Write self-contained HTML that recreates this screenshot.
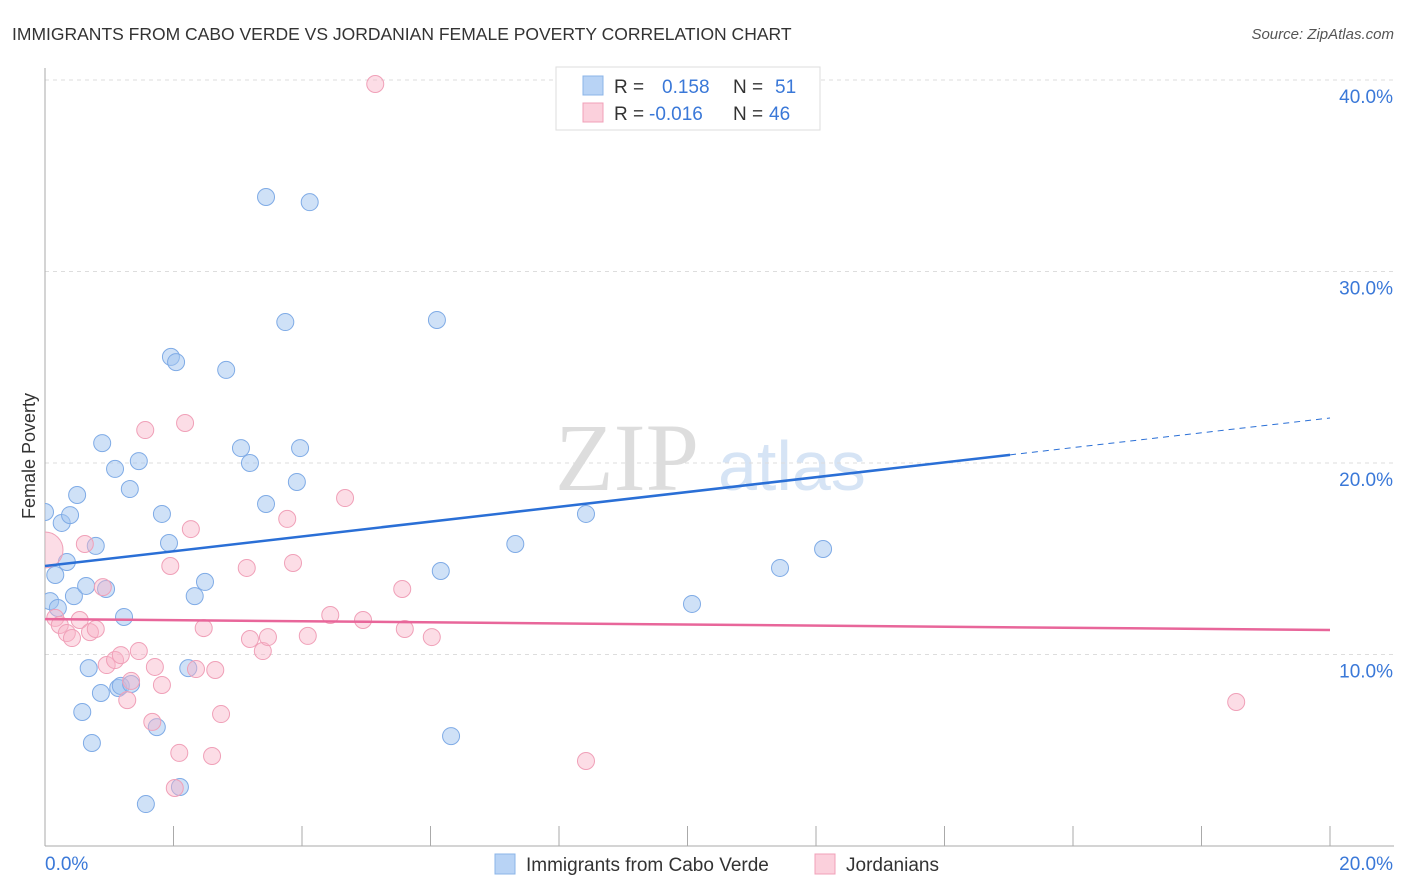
<!DOCTYPE html>
<html><head><meta charset="utf-8"><style>
body{margin:0;background:#fff;font-family:"Liberation Sans",sans-serif}
#w{position:relative;width:1406px;height:892px;overflow:hidden}
</style></head><body><div id="w">
<svg id="s" width="1406" height="892" xmlns="http://www.w3.org/2000/svg">
<text x="12" y="40" font-size="17.5" fill="#333">IMMIGRANTS FROM CABO VERDE VS JORDANIAN FEMALE POVERTY CORRELATION CHART</text>
<text x="1394" y="39" font-size="15" fill="#555" font-style="italic" text-anchor="end">Source: ZipAtlas.com</text>
<text x="35" y="456" font-size="18" fill="#333" text-anchor="middle" transform="rotate(-90 35 456)">Female Poverty</text>
<text x="555" y="490" font-size="96" fill="#ddd" font-family="Liberation Serif,serif">ZIP</text>
<text x="718" y="490" font-size="70" fill="#d6e4f5">atlas</text>
<g id="grid"></g><g id="marks"></g>
<g>
<rect x="556" y="67" width="264" height="63" fill="#fff" stroke="#ddd"/>
<rect x="583" y="76" width="20" height="19" fill="#b8d3f5" stroke="#8bb4e8"/>
<rect x="583" y="103" width="20" height="19" fill="#fbd0dc" stroke="#f0a0b8"/>
<text x="614" y="93" font-size="19" fill="#333">R =</text><text x="662" y="93" font-size="19" fill="#3a78d8">0.158</text>
<text x="733" y="93" font-size="19" fill="#333">N =</text><text x="775" y="93" font-size="19" fill="#3a78d8">51</text>
<text x="614" y="120" font-size="19" fill="#333">R =</text><text x="649" y="120" font-size="19" fill="#3a78d8">-0.016</text>
<text x="733" y="120" font-size="19" fill="#333">N =</text><text x="769" y="120" font-size="19" fill="#3a78d8">46</text>
</g>
<g>
<rect x="495" y="854" width="20" height="20" fill="#b8d3f5" stroke="#8bb4e8"/>
<text x="526" y="871" font-size="19" fill="#333">Immigrants from Cabo Verde</text>
<rect x="815" y="854" width="20" height="20" fill="#fbd0dc" stroke="#f0a0b8"/>
<text x="846" y="871" font-size="19" fill="#333">Jordanians</text>
</g>
</svg></div>
<script>
const blueX=[0,0.16,0.08,0.20,0.26,0.39,0.34,0.50,0.45,0.64,0.79,0.89,0.95,1.09,1.23,1.32,1.46,1.82,1.93,1.96,2.04,2.33,2.49,2.82,3.05,3.19,3.44,3.44,3.74,3.92,3.97,4.12,6.10,6.16,6.32,7.32,8.42,10.07,11.44,12.11,0.58,0.68,0.73,0.87,1.14,1.18,1.34,1.57,1.74,2.10,2.23];
const blueY=[17.44,14.15,12.79,12.43,16.87,17.28,14.83,18.33,13.05,13.58,15.67,21.04,13.42,19.69,11.96,18.64,20.10,17.34,15.82,25.54,25.27,13.05,13.79,24.86,20.78,20.00,33.89,17.86,27.36,19.01,20.78,33.62,27.47,14.36,5.74,15.77,17.34,12.64,14.52,15.51,7.00,9.29,5.38,7.99,8.25,8.36,8.46,2.19,6.21,3.08,9.29];
const pinkX=[0,0.16,0.23,0.34,0.42,0.54,0.62,0.70,0.79,0.90,0.96,1.09,1.18,1.28,1.34,1.46,1.56,1.67,1.71,1.82,1.95,2.09,2.02,2.18,2.27,2.35,2.47,2.60,2.65,2.74,3.14,3.19,3.39,3.47,3.77,3.86,4.09,4.44,4.67,4.95,5.14,5.56,5.60,6.02,8.42,18.54];
const pinkY=[15.46,11.91,11.54,11.12,10.86,11.80,15.77,11.17,11.33,13.52,9.45,9.71,9.97,7.62,8.62,10.18,21.72,6.48,9.35,8.41,14.62,4.86,3.03,22.09,16.55,9.24,11.38,4.70,9.19,6.89,14.52,10.81,10.18,10.91,17.08,14.78,10.97,12.06,18.17,11.80,39.79,13.42,11.33,10.91,4.44,7.52];
const blueTrend=[14.62,22.35];const blueSolidEnd=15.02;
const pinkTrend=[11.85,11.28];
const yTicks=[10,20,30,40];const yLabels=["10.0%","20.0%","30.0%","40.0%"];
const xTicks=[0,2,4,6,8,10,12,14,16,18,20];
const NS="http://www.w3.org/2000/svg";
const X=v=>45+v*64.25, Y=v=>846-v*19.15;
function mk(t,a,p){const e=document.createElementNS(NS,t);for(const k in a)e.setAttribute(k,a[k]);p.appendChild(e);return e;}
const g=document.getElementById('grid'),m=document.getElementById('marks');
yTicks.forEach((t,i)=>{const l=mk('line',{x1:45,x2:1394,y1:Y(t),y2:Y(t),stroke:'#ddd','stroke-dasharray':'4,4'},g);


const tx=mk('text',{x:1393,y:Y(t)+23,'font-size':19,fill:'#3a78d8','text-anchor':'end'},g);tx.textContent=yLabels[i];

});
mk('line',{x1:45,x2:45,y1:68,y2:846,stroke:'#aaa'},g);
mk('line',{x1:45,x2:1394,y1:846,y2:846,stroke:'#aaa'},g);
xTicks.forEach(t=>{const l=mk('line',{x1:X(t),x2:X(t),y1:826,y2:846,stroke:'#aaa'},g);

});
const a=mk('text',{x:45,y:870,'font-size':19,fill:'#3a78d8'},g);a.textContent='0.0%';


const b=mk('text',{x:1393,y:870,'font-size':19,fill:'#3a78d8','text-anchor':'end'},g);b.textContent='20.0%';


mk('clipPath',{id:'cp'},m);mk('rect',{x:45,y:60,width:1360,height:786},m.lastChild);
blueX.forEach((v,i)=>{const c=mk('circle',{cx:X(v),cy:Y(blueY[i]),r:8.5,fill:'rgba(160,196,240,0.5)',stroke:'#7fabe6','stroke-width':1,'clip-path':'url(#cp)'},m);

});
pinkX.forEach((v,i)=>{const c=mk('circle',{cx:X(v),cy:Y(pinkY[i]),r:i==0?18:8.5,fill:'rgba(248,180,200,0.45)',stroke:'#f0a0b8','stroke-width':1,'clip-path':'url(#cp)'},m);

});
const by=x=>blueTrend[0]+(blueTrend[1]-blueTrend[0])*x/20;
const l1=mk('line',{x1:X(0),y1:Y(by(0)),x2:X(blueSolidEnd),y2:Y(by(blueSolidEnd)),stroke:'#2a6fd6','stroke-width':2.5},m);


const l2=mk('line',{x1:X(blueSolidEnd),y1:Y(by(blueSolidEnd)),x2:X(20),y2:Y(by(20)),stroke:'#2a6fd6','stroke-width':1,'stroke-dasharray':'6,5'},m);


const l3=mk('line',{x1:X(0),y1:Y(pinkTrend[0]),x2:X(20),y2:Y(pinkTrend[1]),stroke:'#e8669a','stroke-width':2.5},m);


</script></body></html>
